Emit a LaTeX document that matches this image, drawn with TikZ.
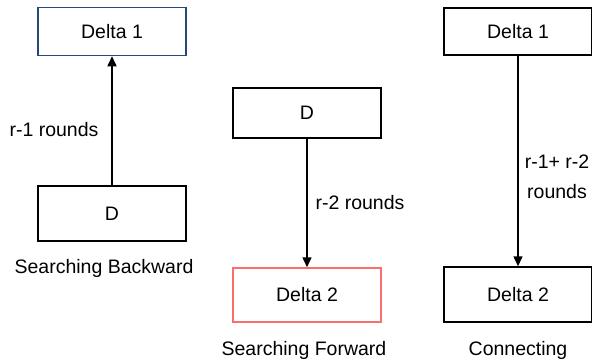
\documentclass[tikz,border=0pt]{standalone}
\usepackage{fontspec}
\setmainfont{Liberation Sans}
\usetikzlibrary{arrows.meta}
\definecolor{bluebord}{RGB}{36,72,122}
\definecolor{redbord}{RGB}{250,110,110}
\begin{document}
\begin{tikzpicture}[x=1pt,y=-1pt,
  every node/.style={font=\fontsize{19.5}{23}\selectfont, text=black},
  box/.style={draw=black, line width=1.5pt, minimum width=148pt, minimum height=50pt, inner sep=0pt},
  conn/.style={line width=1.5pt, -{Triangle[length=10pt,width=9pt]}},
  lbl/.style={fill=white, inner sep=1pt}]
\useasboundingbox (0,0) rectangle (592,362);
% left
\node[box, draw=bluebord, minimum height=48pt] (d1a) at (112,31.5) {Delta 1};
\node[box, minimum height=55pt] (da) at (112,213.5) {D};
\node (sb) at (104,268) {Searching Backward};
\draw[conn] (da) -- (d1a);
\node[lbl] (la) at (54,130) {r-1 rounds};
% middle
\node[box] (db) at (307,113) {D};
\node[box, draw=redbord, minimum height=54pt] (d2b) at (307,295) {Delta 2};
\node (sf) at (304,350) {Searching Forward};
\draw[conn] (db) -- (d2b);
\node[lbl] (lb) at (360,203) {r-2 rounds};
% right
\node[box, minimum height=47pt] (d1c) at (518,31.5) {Delta 1};
\node[box, minimum height=55pt] (d2c) at (518,294.5) {Delta 2};
\node (cn) at (518,350) {Connecting};
\draw[conn] (d1c) -- (d2c);
\node[lbl, align=center, font=\fontsize{19.5}{30}\selectfont] (lc) at (557,177) {r-1+ r-2\\rounds};
\end{tikzpicture}
\end{document}
